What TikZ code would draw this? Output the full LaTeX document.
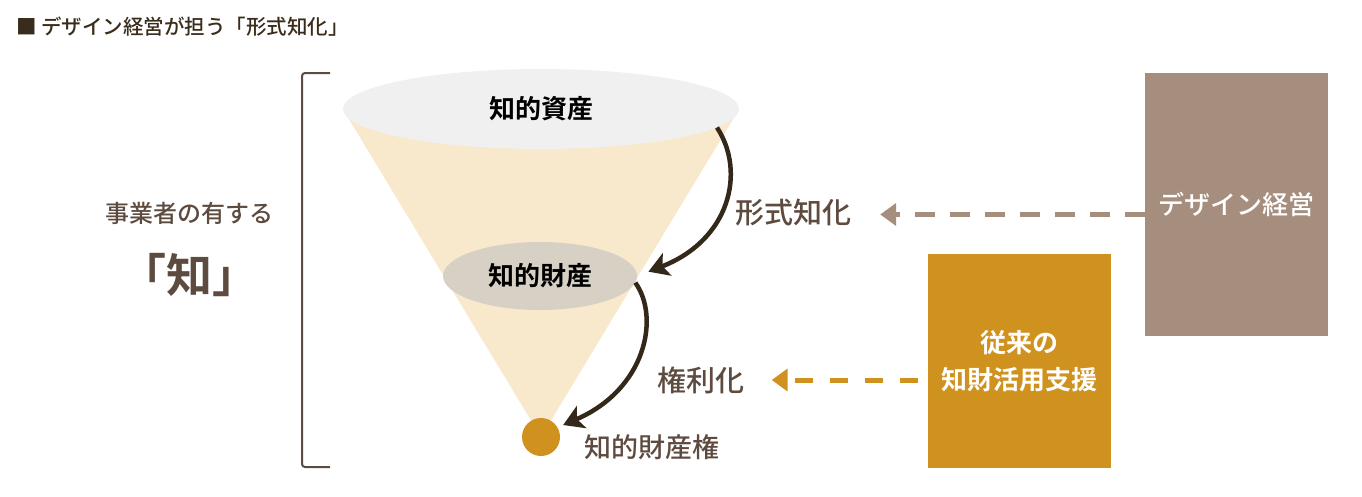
\documentclass[tikz,border=0pt]{standalone}
\usepackage{fontspec}
\setmainfont{Noto Sans CJK JP}[BoldFont={Noto Sans CJK JP Bold}]
\newfontfamily\mediumjp{Noto Sans CJK JP Medium}
\usetikzlibrary{shapes.geometric,arrows.meta,backgrounds}
\definecolor{inkdark}{HTML}{33281A}
\definecolor{textbrown}{HTML}{5E4B40}
\definecolor{titleink}{HTML}{3A2C1A}
\definecolor{funnelcream}{HTML}{F8E9CC}
\definecolor{assetgray}{HTML}{F0F0F0}
\definecolor{propgray}{HTML}{D7D0C5}
\definecolor{gold}{HTML}{D0921E}
\definecolor{mocha}{HTML}{A68E7E}
\begin{document}
\begin{tikzpicture}[
		x=1pt, y=-1pt,
		stage/.style={ellipse, inner sep=0pt, text=black, font=\fontsize{26}{30}\selectfont\bfseries},
		process/.style={inner sep=0pt, text=textbrown, font=\fontsize{29}{34}\selectfont\mediumjp},
		sidebox/.style={rectangle, inner sep=0pt, text=white, align=center, font=\fontsize{26}{37}\selectfont\mediumjp},
		convert arrow/.style={draw=inkdark, line width=4.5pt, -{Stealth[length=20pt,width=24pt,inset=5pt]}},
		hint arrow/.style={line width=5pt, -{Triangle[length=16pt,width=22pt]}}
		]
		\useasboundingbox (0,0) rectangle (1362,496);
		% title
		\node[anchor=west, inner sep=0pt, text=titleink, font=\fontsize{20.5}{24}\selectfont\mediumjp] (title) at (16,27) {■ デザイン経営が担う「形式知化」};
		% left side
		\node[text=textbrown, font=\fontsize{24}{28}\selectfont\mediumjp] (holder) at (189,213) {事業者の有する};
		\node[text=textbrown, font=\fontsize{46}{50}\selectfont\bfseries] (chi) at (189,275) {「知」};
		\draw[textbrown, line width=2pt, rounded corners=3pt] (330,73) -- (302,73) -- (302,467) -- (330,467);
		% funnel
		\node[stage, fill=assetgray, minimum width=396pt, minimum height=80pt] (asset) at (541,109) {知的資産};
		\node[stage, fill=propgray, minimum width=194pt, minimum height=68pt] (prop) at (540,276) {知的財産};
		\node[circle, fill=gold, minimum size=38pt, inner sep=0pt] (right) at (541,437) {};
		\node[anchor=west, inner sep=0pt, text=textbrown, font=\fontsize{27}{30}\selectfont\mediumjp] (rightlabel) at (584,447) {知的財産権};
		\begin{scope}[on background layer]
			\fill[funnelcream] (asset.west) -- (asset.east) -- (right.center) -- cycle;
		\end{scope}
		\draw[convert arrow, shorten >=12pt] (asset.-6) .. controls +(29,44) and +(93,-36) .. (prop.east);
		\draw[convert arrow, shorten >=6pt] (prop.-4) .. controls +(25,35) and +(88,-38) .. (right.30);
		\node[process] (formal) at (793,213) {形式知化};
		\node[process] (rights) at (701,380) {権利化};
		% sources
		\node[sidebox, fill=mocha, minimum width=183pt, minimum height=263pt] (design) at (1236.5,204.5) {デザイン経営};
		\node[sidebox, fill=gold, minimum width=183pt, minimum height=214pt, font=\fontsize{26}{37}\selectfont\bfseries] (support) at (1019.5,361) {従来の\\知財活用支援};
		\coordinate (designout) at ([yshift=-10pt]design.west);
		\coordinate (supportout) at ([yshift=-19pt]support.west);
		\draw[hint arrow, mocha, dash pattern=on 20pt off 15pt, shorten >=29pt] (designout) -- (formal.east |- designout);
		\draw[hint arrow, gold, dash pattern=on 18pt off 17pt, dash phase=25pt, shorten >=27pt] (supportout) -- (rights.east |- supportout);
	\end{tikzpicture}
\end{document}
